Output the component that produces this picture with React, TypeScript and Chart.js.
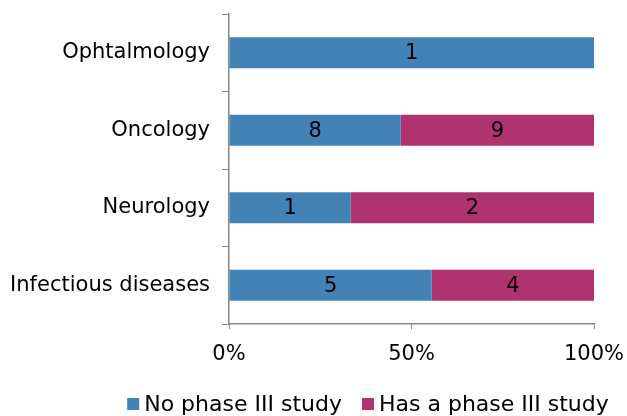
import React, { useEffect, useRef } from "react";
import { Chart, registerables } from "chart.js";

Chart.register(...registerables);

const categories = ["Ophtalmology", "Oncology", "Neurology", "Infectious diseases"];
const noPhaseIII = [1, 8, 1, 5];
const hasPhaseIII = [0, 9, 2, 4];
const seriesNames = ["No phase III study", "Has a phase III study"];
const xTicks = [0, 50, 100];

const BLUE = "#4282B5";
const MAGENTA = "#AF336F";
const AXIS = "#868686";
const FONT = "'DejaVu Sans', Verdana, sans-serif";
const FS = 21;
const LEGEND_FS = 22;

const totals = categories.map((_, i) => noPhaseIII[i] + hasPhaseIII[i]);
const pct = (arr: number[]) => arr.map((v, i) => (v / totals[i]) * 100);
const counts = [noPhaseIII, hasPhaseIII];

const labelPlugin = {
  id: "segLabels",
  afterDatasetsDraw(chart: any) {
    const ctx = chart.ctx;
    ctx.save();
    ctx.font = `${FS}px ${FONT}`;
    ctx.fillStyle = "#000";
    ctx.textAlign = "center";
    ctx.textBaseline = "middle";
    chart.data.datasets.forEach((ds: any, di: number) => {
      const meta = chart.getDatasetMeta(di);
      meta.data.forEach((bar: any, i: number) => {
        const v = counts[di][i];
        if (!v) return;
        const { x, base, y } = bar.getProps(["x", "base", "y"], true);
        ctx.fillText(String(v), (x + base) / 2, y + 1);
      });
    });
    ctx.restore();
  },
};

const legendPlugin = {
  id: "customLegend",
  afterDraw(chart: any) {
    const ctx = chart.ctx;
    ctx.save();
    ctx.font = `${LEGEND_FS}px ${FONT}`;
    ctx.textBaseline = "middle";
    ctx.textAlign = "left";
    const box = 12;
    const gap = 5;
    const itemGap = 20;
    const widths = chart.data.datasets.map((d: any) => box + gap + ctx.measureText(d.label).width);
    const total = widths.reduce((a: number, b: number) => a + b, 0) + itemGap * (widths.length - 1);
    let x = 368 - total / 2;
    const cy = 404;
    chart.data.datasets.forEach((d: any, i: number) => {
      ctx.fillStyle = d.backgroundColor;
      ctx.fillRect(x, cy - box / 2, box, box);
      ctx.fillStyle = "#000";
      ctx.fillText(d.label, x + box + gap, cy + 1);
      x += widths[i] + itemGap;
    });
    ctx.restore();
  },
};

export default function App() {
  const ref = useRef<HTMLCanvasElement>(null);
  useEffect(() => {
    document.body.style.margin = "0";
    const chart = new Chart(ref.current!, {
      type: "bar",
      data: {
        labels: categories,
        datasets: [
          { label: seriesNames[0], data: pct(noPhaseIII), backgroundColor: BLUE, borderWidth: 0 },
          { label: seriesNames[1], data: pct(hasPhaseIII), backgroundColor: MAGENTA, borderWidth: 0 },
        ],
      },
      options: {
        indexAxis: "y",
        responsive: false,
        animation: false,
        devicePixelRatio: 1,
        layout: { padding: { left: 0, right: 33, top: 14, bottom: 0 } },
        datasets: { bar: { categoryPercentage: 1, barPercentage: 0.4 } },
        scales: {
          x: {
            stacked: true,
            min: 0,
            max: 100,
            afterBuildTicks: (scale: any) => {
              scale.ticks = xTicks.map((v) => ({ value: v }));
            },
            afterFit: (scale: any) => {
              scale.height = 92;
              scale.paddingLeft = 0;
              scale.paddingRight = 0;
            },
            ticks: {
              callback: (v: any) => v + "%",
              color: "#000",
              font: { family: FONT, size: FS },
              padding: 13,
              maxRotation: 0,
            },
            grid: { drawOnChartArea: false, drawTicks: true, tickLength: 5, color: AXIS },
            border: { color: AXIS, width: 1.5 },
          },
          y: {
            stacked: true,
            offset: true,
            afterFit: (scale: any) => {
              scale.width = 229;
              scale.paddingTop = 0;
              scale.paddingBottom = 0;
            },
            ticks: {
              color: "#000",
              font: { family: FONT, size: FS },
              padding: 12,
            },
            grid: { offset: true, drawOnChartArea: false, drawTicks: true, tickLength: 7, color: AXIS },
            border: { color: AXIS, width: 1.5 },
          },
        },
        plugins: {
          legend: { display: false },
          tooltip: { enabled: false },
        },
      },
      plugins: [labelPlugin, legendPlugin],
    });
    return () => chart.destroy();
  }, []);
  return (
    <div style={{ width: 627, height: 416 }}>
      <canvas ref={ref} width={627} height={416} style={{ display: "block" }} />
    </div>
  );
}
